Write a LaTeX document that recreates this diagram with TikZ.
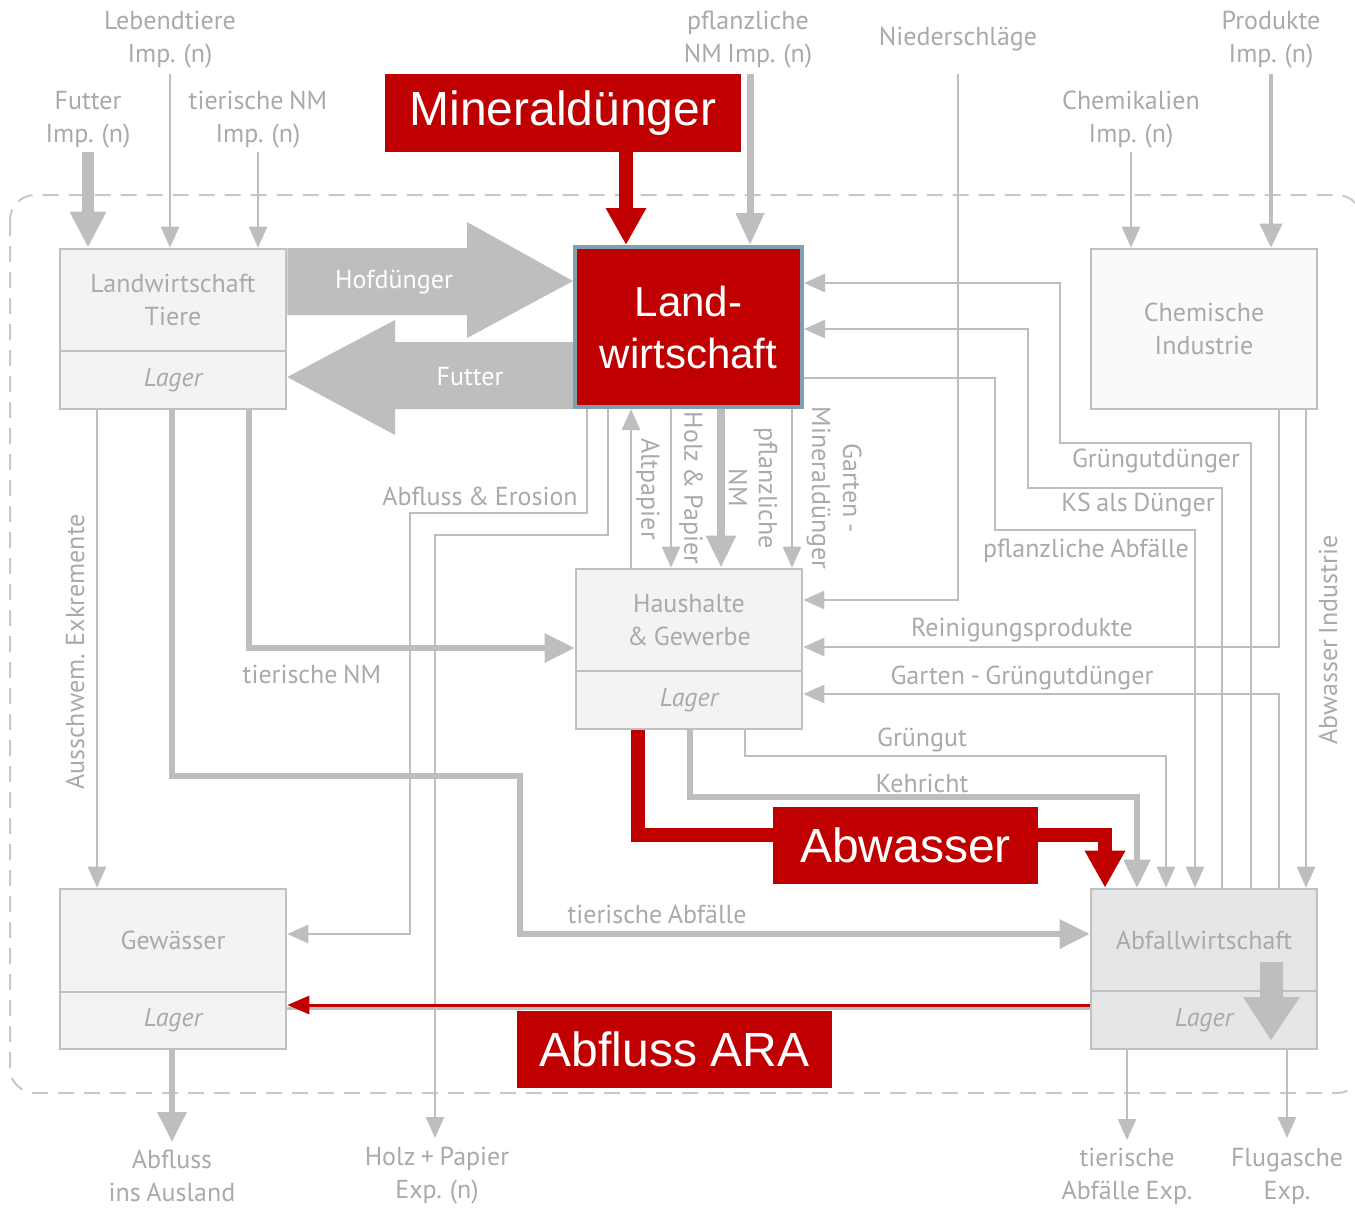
\documentclass[tikz,border=0pt]{standalone}
\usepackage{fontspec}
\setmainfont{PT Sans}[WordSpace=0.8]
\newfontfamily\arialf{Liberation Sans}
\usetikzlibrary{arrows.meta,backgrounds}
\definecolor{lg}{RGB}{190,190,190}
\definecolor{bline}{RGB}{192,192,192}
\definecolor{bfill}{RGB}{243,243,243}
\definecolor{cfill}{RGB}{250,250,250}
\definecolor{afill}{RGB}{230,230,230}
\definecolor{txt}{RGB}{170,170,170}
\definecolor{myred}{RGB}{192,0,0}
\definecolor{bluegray}{RGB}{127,160,176}
\definecolor{dashc}{RGB}{200,200,200}
\newcommand\gfont{\fontsize{13}{16.5}\selectfont}
\begin{document}
\begin{tikzpicture}[x=0.5pt,y=-0.5pt,
  box/.style={draw=bline, fill=bfill, line width=1.3pt, inner sep=0pt, text=txt, font=\gfont, align=center, minimum width=113pt},
  lab/.style={text=txt, font=\gfont, align=center, inner sep=0pt},
  wlab/.style={text=white, font=\gfont, inner sep=0pt},
  redbox/.style={fill=myred, text=white, font=\arialf\fontsize{24}{28}\selectfont, inner sep=0pt},
  thin/.style={draw=lg, line width=1.3pt, -{Triangle[width=9pt,length=10.5pt]}},
  plain/.style={draw=lg, line width=1.3pt},
  thickflow/.style={draw=lg, line width=3pt, -{Triangle[width=14pt,length=15pt]}},
  medflow/.style={draw=lg, line width=3.5pt, -{Triangle[width=13.5pt,length=16pt]}},
  bigflow/.style={draw=lg, line width=6pt, -{Triangle[width=17pt,length=18pt]}},
  prodflow/.style={draw=lg, line width=2pt, -{Triangle[width=11pt,length=12pt]}},
  redflow/.style={draw=myred, line width=7pt, -{Triangle[width=19pt,length=18.5pt]}},
]
\useasboundingbox (0,0) rectangle (1355,1207);

% ---------- boxes ----------
\node[box, minimum height=51pt] (LT) at (173,300) {Landwirtschaft\\Tiere};
\node[box, minimum height=29pt] (LTl) at (173,380) {\itshape Lager};
\node[draw=bluegray, fill=myred, line width=2pt, minimum width=113.5pt, minimum height=80pt, inner sep=0pt,
      text=white, font=\arialf\fontsize{21}{26}\selectfont, align=center] (LW) at (688.5,327) {Land-\\wirtschaft};
\node[box, fill=cfill, minimum height=80pt] (CI) at (1204,329) {Chemische\\Industrie};
\node[box, minimum height=51pt] (HG) at (689,620) {Haushalte\\\& Gewerbe};
\node[box, minimum height=29pt] (HGl) at (689,700) {\itshape Lager};
\node[box, minimum height=51.5pt] (GW) at (173,940.5) {Gewässer};
\node[box, minimum height=28.5pt] (GWl) at (173,1020.5) {\itshape Lager};
\node[box, fill=afill, minimum height=51pt] (AW) at (1204,940) {Abfallwirtschaft};
\node[box, fill=afill, minimum height=29pt] (AWl) at (1204,1020) {\itshape Lager};

% ---------- outside labels ----------
\node[lab] (tLI) at (170,40) {Lebendtiere\\Imp. (n)};
\node[lab] (tFI) at (88,120) {Futter\\Imp. (n)};
\node[lab] (tTI) at (258,120) {tierische NM\\Imp. (n)};
\node[lab] (tPI) at (748,40) {pflanzliche\\NM Imp. (n)};
\node[lab] (tNS) at (958,39) {Niederschläge};
\node[lab] (tCH) at (1131,120) {Chemikalien\\Imp. (n)};
\node[lab] (tPR) at (1271,40) {Produkte\\Imp. (n)};
\node[lab] (tAA) at (172,1176) {Abfluss\\ins Ausland};
\node[lab] (tHP) at (437,1176) {Holz + Papier\\Exp. (n)};
\node[lab] (tTA) at (1127,1176) {tierische\\Abfälle Exp.};
\node[lab] (tFA) at (1287,1176) {Flugasche\\Exp.};

\coordinate (cLI) at (170,74);
\coordinate (cFI) at (88,152);
\coordinate (cTI) at (258,152);
\coordinate (cPI) at (750,74);
\coordinate (cNS) at (958,74);
\coordinate (cCH) at (1131,152);
\coordinate (cPR) at (1271,74);
\coordinate (cMD) at (626,150);
\coordinate (eAA) at (172,1142);
\coordinate (eHP) at (435,1138);
\coordinate (eTA) at (1127,1140);
\coordinate (eFA) at (1287,1138);

% ---------- flow labels ----------
\node[wlab] (lHD) at (394,282) {Hofdünger};
\node[wlab] (lFU) at (470,377) {Futter};
\node[lab] (lAE) at (480,496) {Abfluss \& Erosion};
\node[lab, rotate=-90] (lAP) at (648,489) {Altpapier};
\node[lab, rotate=-90] (lHZ) at (691,488) {Holz \& Papier};
\node[lab, rotate=-90, font=\fontsize{13}{15}\selectfont] (lPN) at (753,488) {pflanzliche\\NM};
\node[lab, rotate=-90, font=\fontsize{13}{15.5}\selectfont] (lGM) at (834,488) {Garten -\\Mineraldünger};
\node[lab] (lGD) at (1156,461) {Grüngutdünger};
\node[lab] (lKS) at (1138,505) {KS als Dünger};
\node[lab] (lPA) at (1086,551) {pflanzliche Abfälle};
\node[lab] (lRP) at (1022,630) {Reinigungsprodukte};
\node[lab] (lGG) at (1022,678) {Garten - Grüngutdünger};
\node[lab] (lTN) at (312,674) {tierische NM};
\node[lab] (lGR) at (922,740) {Grüngut};
\node[lab] (lKE) at (922,783) {Kehricht};
\node[lab] (lTA) at (657,914) {tierische Abfälle};
\node[lab, rotate=90] (lAX) at (75,652) {Ausschwem. Exkremente};
\node[lab, rotate=90] (lAI) at (1328,640) {Abwasser Industrie};

\begin{pgfonlayer}{background}
\fill[white] (0,0) rectangle (1355,1207);
\draw[dashc, line width=1pt, dash pattern=on 8pt off 5pt, rounded corners=12.5pt] (10,195) rectangle (1362,1093);

% imports
\draw[bigflow] (cFI) -- (LT.north -| cFI);
\draw[thin] (cLI) -- (LT.north -| cLI);
\draw[thin] (cTI) -- (LT.north -| cTI);
\draw[medflow] (cPI) -- (LW.north -| cPI);
\draw[thin] (cNS) -- (958,600) -- (HG.east |- 0,600);
\draw[thin] (cCH) -- (CI.north -| cCH);
\draw[prodflow] (cPR) -- (CI.north -| cPR);
\draw[redflow] (cMD) -- (LW.north -| cMD);

% block arrows
\fill[lg] (LT.east |- 0,248) -- (467,248) -- (467,222) -- (LW.west |- 0,281) -- (467,338) -- (467,315) -- (LT.east |- 0,315) -- cycle;
\fill[lg] (LW.west |- 0,342) -- (395,342) -- (395,320) -- (LTl.east |- 0,377) -- (395,435) -- (395,409) -- (LW.west |- 0,409) -- cycle;

% Landwirtschaft -> down
\draw[thin] (LW.south -| 587,0) -- (587,513) -- (410,513) -- (410,934) -- (GW.east |- 0,934);
\draw[thin] (LW.south -| 608,0) -- (608,535) -- (435,535) -- (eHP);
\draw[thin] (HG.north -| 631,0) -- (LW.south -| 631,0);
\draw[thin] (LW.south -| 671,0) -- (HG.north -| 671,0);
\draw[medflow, line width=4pt, -{Triangle[width=14pt,length=16pt]}] (LW.south -| 721,0) -- (HG.north -| 721,0);
\draw[thin] (LW.south -| 792,0) -- (HG.north -| 792,0);

% right side loops
\draw[thin] (AW.north -| 1251,0) -- (1251,443) -- (1060,443) -- (1060,283) -- (LW.east |- 0,283);
\draw[thin] (AW.north -| 1222,0) -- (1222,488) -- (1028,488) -- (1028,329) -- (LW.east |- 0,329);
\draw[thin] (LW.east |- 0,378) -- (995,378) -- (995,530) -- (1195,530) -- (AW.north -| 1195,0);
\draw[thin] (CI.south -| 1279,0) -- (1279,647) -- (HG.east |- 0,647);
\draw[thin] (AW.north -| 1279,0) -- (1279,694) -- (HGl.east |- 0,694);
\draw[thin] (CI.south -| 1306,0) -- (AW.north -| 1306,0);

% Landwirtschaft Tiere outflows
\draw[thin] (LTl.south -| 97,0) -- (GW.north -| 97,0);
\draw[thickflow] (LTl.south -| 249,0) -- (249,648) -- (HG.west |- 0,648);
\draw[thickflow] (LTl.south -| 172,0) -- (172,776) -- (520,776) -- (520,934) -- (AW.west |- 0,934);

% Haushalte outflows
\draw[thin] (HGl.south -| 745,0) -- (745,756) -- (1166,756) -- (AW.north -| 1166,0);
\draw[thickflow, line width=2.6pt, -{Triangle[width=13pt,length=14pt]}] (HGl.south -| 690,0) -- (690,797) -- (1137,797) -- (AW.north -| 1137,0);
\draw[redflow] ([yshift=1pt]HGl.south -| 638,0) -- (638,835) -- (1105,835) -- (AW.north -| 1105,0);
\fill[myred] (638,727) circle (3.5pt);

% Abfluss ARA
\draw[lg, line width=1.5pt] (AWl.west |- 0,1008) -- (GWl.east |- 0,1008);
\draw[myred, line width=1.5pt, -{Triangle[width=9pt,length=11pt]}] (AWl.west |- 0,1005) -- (GWl.east |- 0,1005);

% exports
\draw[thickflow] (GWl.south -| eAA) -- (eAA);
\draw[thin] (AWl.south -| eTA) -- (eTA);
\draw[thin] (AWl.south -| eFA) -- (eFA);
\end{pgfonlayer}

% internal arrow in Abfallwirtschaft
\fill[lg] (1260,962) -- (1283,962) -- (1283,997) -- (1300,997) -- (1271,1040) -- (1243,997) -- (1260,997) -- cycle;

% ---------- red label boxes ----------
\node[redbox, minimum width=178pt, minimum height=39pt] (MD) at (563,113) {Mineraldünger};
\node[redbox, minimum width=132.5pt, minimum height=38.5pt] (AB) at (905.5,845.5) {Abwasser};
\node[redbox, minimum width=157.5pt, minimum height=38.5pt] (AR) at (674.5,1049.5) {Abfluss ARA};
\end{tikzpicture}
\end{document}
